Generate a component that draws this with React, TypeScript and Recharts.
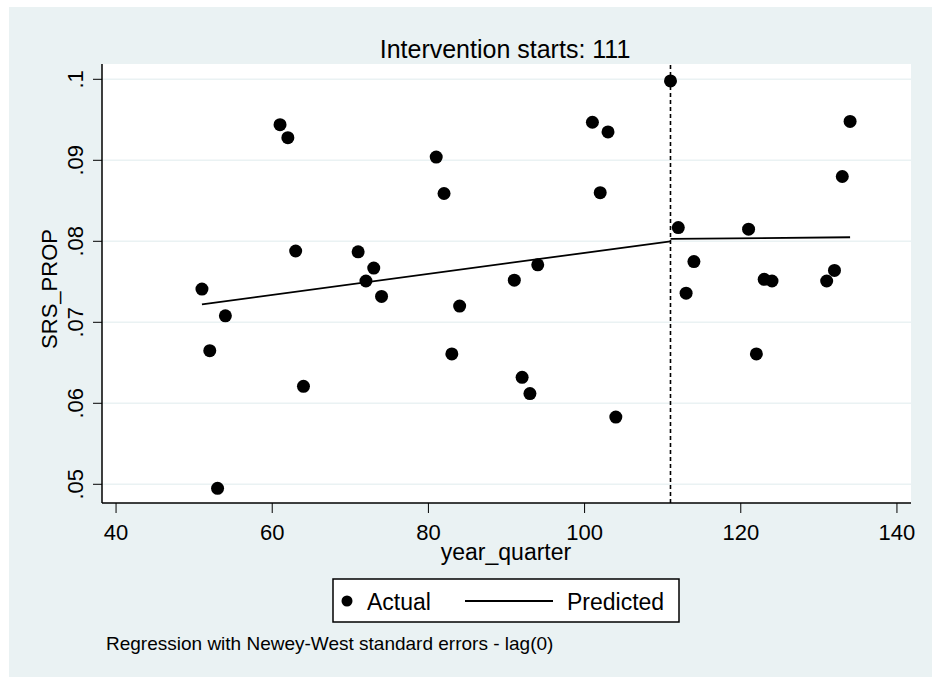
import React from 'react';
import {
  CartesianGrid,
  ReferenceLine,
  Scatter,
  ScatterChart,
  XAxis,
  YAxis,
} from 'recharts';

// year_quarter values with an observation
const quarters = [
  51, 52, 53, 54, 61, 62, 63, 64, 71, 72, 73, 74, 81, 82, 83, 84, 91, 92, 93, 94,
  101, 102, 103, 104, 111, 112, 113, 114, 121, 122, 123, 124, 131, 132, 133, 134,
];
const srsProp = [
  0.0741, 0.0665, 0.0495, 0.0708, 0.0944, 0.0928, 0.0788, 0.0621, 0.0787, 0.0751,
  0.0767, 0.0732, 0.0904, 0.0859, 0.0661, 0.072, 0.0752, 0.0632, 0.0612, 0.0771,
  0.0947, 0.086, 0.0935, 0.0583, 0.0998, 0.0817, 0.0736, 0.0775, 0.0815, 0.0661,
  0.0753, 0.0751, 0.0751, 0.0764, 0.088, 0.0948,
];

// fitted segments, before and after the intervention
const preX = [51, 111];
const preY = [0.0722, 0.08];
const postX = [111, 134];
const postY = [0.0803, 0.0805];

const INTERVENTION = 111;
const xTicks = [40, 60, 80, 100, 120, 140];
const yTicks = [0.05, 0.06, 0.07, 0.08, 0.09, 0.1];

const BG = '#EAF2F3';
const FONT = '"Liberation Sans", Arial, sans-serif';

const actual = quarters.map((q, i) => ({ q, v: srsProp[i] }));
const predPre = preX.map((q, i) => ({ q, v: preY[i] }));
const predPost = postX.map((q, i) => ({ q, v: postY[i] }));

const fmtY = (v: number) => String(v).replace(/^0/, '');

function YTick(props: any) {
  const { y, payload } = props;
  return (
    <text
      x={74}
      y={y}
      transform={`rotate(-90, 74, ${y})`}
      textAnchor="middle"
      fontSize={22}
      fontFamily={FONT}
      fill="#000"
    >
      {fmtY(payload.value)}
    </text>
  );
}

const Dot = (props: any) => <circle cx={props.cx} cy={props.cy} r={6.5} fill="#000" />;
const NoDot = () => <g />;

export default function App() {
  return (
    <div style={{ position: 'absolute', left: 0, top: 0, width: 932, height: 677, background: '#fff' }}>
      <div style={{ position: 'absolute', left: 9, top: 7, width: 923, height: 670, background: BG }}>
        <ScatterChart width={923} height={670} margin={{ top: 57, right: 21, left: 0, bottom: 134 }}>
          <CartesianGrid fill="#fff" stroke={BG} strokeWidth={1.5} vertical={false} horizontalValues={yTicks} />
          <XAxis
            type="number"
            dataKey="q"
            domain={[38.2, 141.8]}
            ticks={xTicks}
            height={40}
            tickSize={10}
            tickMargin={11}
            stroke="#000"
            axisLine={{ stroke: '#000', strokeWidth: 1.5 }}
            tickLine={{ stroke: '#000' }}
            tick={{ fontSize: 22, fontFamily: FONT, fill: '#000' }}
          />
          <YAxis
            type="number"
            dataKey="v"
            domain={[0.04769, 0.10189]}
            ticks={yTicks}
            width={93}
            tickSize={9}
            axisLine={{ stroke: '#000', strokeWidth: 1.5 }}
            tickLine={{ stroke: '#000' }}
            tick={<YTick />}
          />
          <ReferenceLine x={INTERVENTION} stroke="#000" strokeWidth={1.6} strokeDasharray="4 3" />
          <Scatter data={actual} shape={Dot} isAnimationActive={false} />
          <Scatter
            data={predPre}
            shape={NoDot}
            line={{ stroke: '#000', strokeWidth: 1.8 }}
            isAnimationActive={false}
          />
          <Scatter
            data={predPost}
            shape={NoDot}
            line={{ stroke: '#000', strokeWidth: 1.8 }}
            isAnimationActive={false}
          />
        </ScatterChart>
        <svg
          width={923}
          height={670}
          style={{ position: 'absolute', left: 0, top: 0, pointerEvents: 'none' }}
          fontFamily={FONT}
        >
          <text x={496} y={51} textAnchor="middle" fontSize={25} fill="#000">
            Intervention starts: 111
          </text>
          <text x={497} y={553} textAnchor="middle" fontSize={23} fill="#000">
            year_quarter
          </text>
          <text x={48} y={282} transform="rotate(-90, 48, 282)" textAnchor="middle" fontSize={22} fill="#000">
            SRS_PROP
          </text>
          <rect x={324} y={572} width={346} height={43} fill="#fff" stroke="#000" strokeWidth={1.5} />
          <circle cx={338} cy={594} r={5.5} fill="#000" />
          <text x={358} y={603} fontSize={23} fill="#000">
            Actual
          </text>
          <line x1={456} y1={594} x2={544} y2={594} stroke="#000" strokeWidth={1.8} />
          <text x={558} y={603} fontSize={23} fill="#000">
            Predicted
          </text>
          <text x={97} y={643} fontSize={19} fill="#000">
            Regression with Newey-West standard errors - lag(0)
          </text>
        </svg>
      </div>
    </div>
  );
}
